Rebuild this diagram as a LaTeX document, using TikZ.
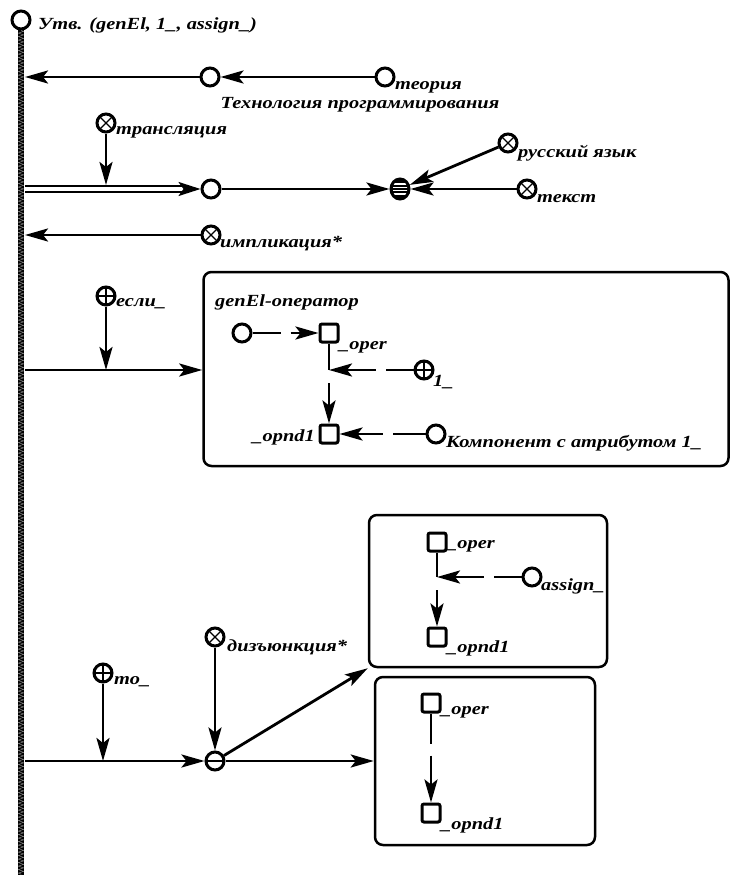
\documentclass[tikz,border=0pt]{standalone}
\usepackage{fontspec}
\setmainfont{Liberation Serif}
\newfontfamily\diagfont[FakeStretch=1.2]{Liberation Serif}
\usetikzlibrary{arrows.meta, decorations.pathmorphing, shapes.geometric, positioning, calc}

\begin{document}
\begin{tikzpicture}[
    x=1pt, y=-1pt,
    every node/.style={font=\diagfont\fontsize{17}{19}\selectfont\bfseries\itshape, inner sep=1pt},
    vert/.style={circle, draw, line width=3pt, minimum size=18pt, inner sep=0pt, fill=white},
    vertx/.style={vert, path picture={
        \draw[line width=1.2pt] (path picture bounding box.south west) -- (path picture bounding box.north east)
            (path picture bounding box.north west) -- (path picture bounding box.south east);}},
    vertp/.style={vert, path picture={
        \draw[line width=1.2pt] (path picture bounding box.north) -- (path picture bounding box.south)
            (path picture bounding box.west) -- (path picture bounding box.east);}},
    vertm/.style={vert, path picture={
        \draw[line width=1.2pt] (path picture bounding box.west) -- (path picture bounding box.east);}},
    vertstr/.style={vert, ellipse, fill=black, minimum width=18pt, minimum height=20pt, path picture={
        \foreach \k in {-5,-1.7,1.7,5}
            \draw[white, line width=1.3pt] ([yshift=\k pt]path picture bounding box.west) -- ++(22,0);}},
    sq/.style={rectangle, draw, line width=3pt, minimum size=18pt, inner sep=0pt, rounded corners=2pt, fill=white},
    frame/.style={draw, line width=2.5pt, rounded corners=8pt, inner sep=0pt},
    arr/.style={line width=2.8pt, -{Stealth[length=23pt, width=13pt, inset=5pt]}},
    dbl/.style={line width=2.3pt, double, double distance=3.4pt, -{Stealth[length=22pt, width=14pt, inset=5pt]}},
    gapstart/.style={dash pattern=on #1 off 10pt on 500pt},
    gapjoin/.style={dash pattern=on 500pt off #1, dash phase=500pt}
]
    \useasboundingbox (0,0) rectangle (733,875);

    % main element and its line
    \node[vert] (utv) at (21,20) {};
    \coordinate (bot) at (21,875);
    \draw[line width=6.5pt, black] (utv.south) -- (bot);
    \draw[black!40, line width=0.4pt, decorate, decoration={zigzag, segment length=3.5pt, amplitude=2.6pt}] (utv.south) -- (bot);
    \node[anchor=west] (utvlbl) at (37,25) {Утв. (genEl, 1\_, assign\_)};

    \coordinate (m1) at (25,77);
    \coordinate (m2) at (25,189);
    \coordinate (m3) at (25,235);
    \coordinate (m4) at (25,370);
    \coordinate (m5) at (25,761);

    % upper part
    \node[vert] (teh) at (210,77) {};
    \node[vert] (teor) at (385,77) {};
    \node (tehlbl) at (360,105) {Технология программирования};
    \node[anchor=west] (teorlbl) at (394,87) {теория};

    \node[vertx] (trans) at (106,123) {};
    \node[anchor=west] (translbl) at (115,132) {трансляция};
    \coordinate (t1) at (106,185);

    \node[vert] (krug) at (211,189) {};
    \node[vertstr] (strip) at (400,189) {};
    \node[vertx] (rus) at (508,143) {};
    \node[vertx] (tekst) at (527,189) {};
    \node[anchor=west] (ruslbl) at (517,153) {русский язык};
    \node[anchor=west] (tekstlbl) at (536,199) {текст};

    \node[vertx] (impl) at (211,235) {};
    \node[anchor=west] (impllbl) at (219,244) {импликация*};

    \draw[arr] (teor) -- (teh);
    \draw[arr] (teh) -- (m1);
    \draw[dbl] (m2) -- (krug);
    \draw[arr] (trans) -- (t1);
    \draw[arr] (krug) -- (strip);
    \draw[arr] (rus) -- (strip);
    \draw[arr] (tekst) -- (strip);
    \draw[arr] (impl) -- (m3);

    % if-part
    \node[vertp] (esli) at (106,296) {};
    \node[anchor=west] (eslilbl) at (115,304) {если\_};
    \node[frame, minimum width=525pt, minimum height=194pt] (box1) at (466,369) {};
    \draw[arr] (esli) -- (esli |- m4);
    \draw[arr] (m4) -- (m4 -| box1.west);

    \node[anchor=west] (genlbl) at (214,302) {genEl-оператор};
    \node[vert] (gen) at (242,333) {};
    \node[sq] (oper1) at (329,333) {};
    \node[anchor=west] (oper1lbl) at (338,347) {\_oper};
    \coordinate (j1) at (329,370);
    \node[vertp] (one) at (424,370) {};
    \node[anchor=west] (onelbl) at (432,382) {1\_};
    \node[sq] (opnd1) at (329,434) {};
    \node[anchor=east] (opnd1lbl) at (316,437) {\_opnd1};
    \node[vert] (komp) at (436,434) {};
    \node[anchor=west] (komplbl) at (445,443) {Компонент с атрибутом 1\_};

    \draw[arr, gapstart=28pt] (gen) -- (oper1);
    \draw[line width=2.8pt] (oper1) -- (j1);
    \draw[arr, gapstart=28pt] (one) -- (j1);
    \draw[arr, gapjoin=13pt] (j1) -- (opnd1);
    \draw[arr, gapstart=33pt] (komp) -- (opnd1);

    % then-part
    \node[vertp] (to) at (103,673) {};
    \node[anchor=west] (tolbl) at (113,682) {то\_};
    \node[vertx] (diz) at (215,637) {};
    \node[anchor=west] (dizlbl) at (226,647) {дизъюнкция*};
    \node[vertm] (dis) at (215,761) {};
    \node[frame, minimum width=238pt, minimum height=152pt] (box2) at (488,591) {};
    \node[frame, minimum width=220pt, minimum height=168pt] (box3) at (485,761) {};

    \draw[arr] (to) -- (to |- m5);
    \draw[arr] (m5) -- (dis);
    \draw[arr] (diz) -- (dis);
    \draw[arr] (dis) -- (box2.south west);
    \draw[arr] (dis) -- (dis -| box3.west);

    \node[sq] (oper2) at (437,542) {};
    \node[anchor=west] (oper2lbl) at (446,546) {\_oper};
    \coordinate (j2) at (437,577);
    \node[vert] (assign) at (532,577) {};
    \node[anchor=west] (assignlbl) at (540,586) {assign\_};
    \node[sq] (opnd2) at (437,637) {};
    \node[anchor=west] (opnd2lbl) at (446,648) {\_opnd1};
    \draw[line width=2.8pt] (oper2) -- (j2);
    \draw[arr, gapstart=28pt] (assign) -- (j2);
    \draw[arr, gapjoin=13pt] (j2) -- (opnd2);

    \node[sq] (oper3) at (431,703) {};
    \node[anchor=west] (oper3lbl) at (440,712) {\_oper};
    \node[sq] (opnd3) at (431,813) {};
    \node[anchor=west] (opnd3lbl) at (440,825) {\_opnd1};
    \draw[arr, dash pattern=on 30pt off 12pt on 500pt] (oper3) -- (opnd3);
\end{tikzpicture}
\end{document}
